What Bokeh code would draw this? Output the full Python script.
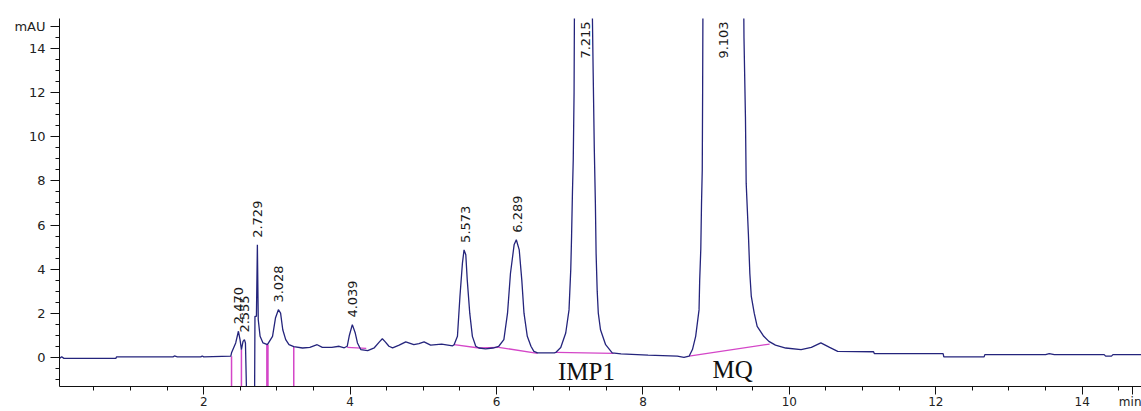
from bokeh.plotting import figure
from bokeh.models import Range1d, FixedTicker, Label, ColumnDataSource, NumeralTickFormatter
from bokeh.core.properties import value
from bokeh.embed import file_html
from bokeh.resources import INLINE

# ---- chromatogram trace (retention time in min, absorbance in mAU) ----
time_min = [0.03, 0.06, 0.09, 0.80, 0.81, 1.58, 1.60, 1.64, 1.96, 1.98, 2.00, 2.37,
            2.38, 2.437, 2.474, 2.496, 2.515, 2.537, 2.556, 2.57, 2.585, 2.695, 2.70, 2.72,
            2.733, 2.745, 2.77, 2.81, 2.87, 2.94, 2.98, 3.02, 3.05, 3.08, 3.12, 3.165,
            3.23, 3.35, 3.45, 3.55, 3.62, 3.75, 3.85, 3.92, 3.96, 3.99, 4.03, 4.07,
            4.10, 4.145, 4.24, 4.33, 4.40, 4.44, 4.48, 4.53, 4.58, 4.67, 4.76, 4.87,
            4.94, 5.01, 5.10, 5.25, 5.40, 5.42, 5.466, 5.50, 5.534, 5.556, 5.58, 5.60,
            5.634, 5.67, 5.716, 5.76, 5.85, 5.95, 6.03, 6.10, 6.15, 6.19, 6.24, 6.27,
            6.31, 6.345, 6.375, 6.42, 6.47, 6.51, 6.56, 6.79, 6.809, 6.877, 6.945, 6.99,
            7.014, 7.025, 7.037, 7.048, 7.059, 7.065, 7.215, 7.305, 7.32, 7.335, 7.35, 7.36,
            7.375, 7.39, 7.42, 7.49, 7.58, 7.70, 8.07, 8.47, 8.56, 8.63, 8.676, 8.72,
            8.766, 8.775, 8.79, 8.80, 8.81, 8.815, 8.82, 9.103, 9.375, 9.38, 9.40, 9.41,
            9.44, 9.46, 9.48, 9.52, 9.56, 9.65, 9.72, 9.81, 9.95, 10.16, 10.30, 10.43,
            10.55, 10.66, 11.15, 11.16, 12.10, 12.11, 12.66, 12.67, 13.50, 13.55, 13.62,
            14.30, 14.32, 14.40, 14.42, 14.81]
signal_mau = [-0.05, 0.02, -0.05, -0.05, 0.02, 0.02, 0.06, 0.02, 0.02, 0.06, 0.02, 0.05,
              0.20, 0.65, 1.18, 0.80, 0.35, 0.72, 0.80, 0.65, -1.60, -1.60, 1.86, 1.86,
              5.10, 1.70, 0.95, 0.65, 0.57, 0.95, 1.78, 2.16, 2.00, 1.25, 0.80, 0.57,
              0.48, 0.42, 0.45, 0.57, 0.45, 0.45, 0.50, 0.43, 0.50, 1.00, 1.48, 1.10,
              0.65, 0.35, 0.30, 0.43, 0.70, 0.84, 0.70, 0.50, 0.43, 0.55, 0.70, 0.57,
              0.62, 0.70, 0.55, 0.60, 0.52, 0.57, 0.95, 2.76, 4.27, 4.87, 4.65, 3.50,
              2.00, 0.95, 0.50, 0.42, 0.38, 0.42, 0.50, 0.80, 2.00, 3.80, 5.10, 5.33,
              4.87, 3.50, 2.00, 0.95, 0.50, 0.27, 0.20, 0.20, 0.22, 0.44, 1.10, 2.15,
              4.00, 5.50, 7.50, 9.00, 12.00, 16.50, 30.00, 16.50, 12.90, 9.50, 7.00, 4.70,
              3.00, 2.00, 1.25, 0.57, 0.20, 0.15, 0.10, 0.05, 0.00, 0.05, 0.35, 0.95,
              2.15, 3.50, 4.90, 7.00, 8.50, 12.00, 16.50, 40.00, 16.50, 14.50, 10.90, 7.90,
              5.60, 3.80, 2.76, 2.00, 1.40, 0.95, 0.72, 0.55, 0.42, 0.35, 0.45, 0.65,
              0.45, 0.27, 0.25, 0.17, 0.17, 0.02, 0.02, 0.12, 0.12, 0.17, 0.12,
              0.12, 0.05, 0.05, 0.12, 0.12]

# ---- integrated peaks ----
peak_rt = [2.470, 2.555, 2.729, 3.028, 4.039, 5.573, 6.289, 7.215, 9.103]
peak_text = ["2.470", "2.555", "2.729", "3.028", "4.039", "5.573", "6.289", "7.215", "9.103"]
peak_height = [1.18, 0.80, 5.10, 2.16, 1.48, 4.87, 5.33, 30.0, 40.0]

# ---- integration drop lines and baselines ----
drop_t = [2.38, 2.515, 2.87, 3.23]
drop_top = [0.05, 0.35, 0.57, 0.48]
base_t0 = [3.96, 5.42, 5.76, 6.03, 6.81, 8.63]
base_v0 = [0.45, 0.57, 0.42, 0.45, 0.22, 0.05]
base_t1 = [4.22, 5.76, 6.03, 6.56, 7.60, 9.73]
base_v1 = [0.40, 0.42, 0.45, 0.18, 0.18, 0.60]

compound_names = ["IMP1", "MQ"]

# ---- axis ticks ----
x_ticks = [2, 4, 6, 8, 10, 12, 14]
y_ticks = [0, 2, 4, 6, 8, 10, 12, 14]
x_unit, y_unit = "min", "mAU"

X0, X1 = 0.03, 14.81
Y0, Y1 = -1.326, 15.37
X_UNIT_POS, Y_UNIT_POS = 14.69, 15

NAVY = "#24247c"
MAGENTA = "#d446c8"
FONT = "DejaVu Sans"

p = figure(width=1141, height=411, x_range=Range1d(X0, X1), y_range=Range1d(Y0, Y1),
           output_backend="svg", toolbar_location=None,
           min_border_left=59, min_border_right=0, min_border_top=18, min_border_bottom=24)
p.outline_line_color = None
p.xgrid.visible = False
p.ygrid.visible = False
p.background_fill_color = "white"
p.border_fill_color = "white"

# drop lines to the bottom of the plot
for i, (t, top) in enumerate(zip(drop_t, drop_top)):
    p.segment(x0=[t], y0=[top], x1=[t], y1=[Y0 - 1], line_color=MAGENTA,
              line_width=2.6 if i == 2 else 1.5)
# baselines
p.segment(x0=base_t0, y0=base_v0, x1=base_t1, y1=base_v1, line_color=MAGENTA, line_width=1.3)

# trace
p.line(time_min, signal_mau, line_color=NAVY, line_width=1.3)

# retention time labels (rotated)
label_y = [min(h + 0.32, 13.55) for h in peak_height]
src = ColumnDataSource(dict(x=peak_rt, y=label_y, t=peak_text))
p.text(x="x", y="y", text="t", source=src, angle=1.5708, text_align="left",
       text_baseline="middle", text_font=value(FONT), text_font_size="13px",
       text_color="#1a1a1a")

# compound names
for name, xt, yt in zip(compound_names, [6.84, 8.95], [-0.64, -0.56]):
    p.add_layout(Label(x=xt, y=yt, text=name, text_font="Liberation Serif",
                       text_font_size="25px", text_color="#111111",
                       text_align="left", text_baseline="alphabetic"))

# axes: unit names are shown as extra labelled ticks at the axis ends
x_minor = [0.5 * i for i in range(1, 30)]
y_minor = [-1.0 + 0.5 * i for i in range(33)]
p.xaxis.ticker = FixedTicker(ticks=x_ticks + [X_UNIT_POS], minor_ticks=x_minor)
p.yaxis.ticker = FixedTicker(ticks=y_ticks + [Y_UNIT_POS], minor_ticks=y_minor)
p.xaxis.formatter = NumeralTickFormatter(format="0")
p.yaxis.formatter = NumeralTickFormatter(format="0")
p.xaxis.major_label_overrides = {X_UNIT_POS: x_unit}
p.yaxis.major_label_overrides = {Y_UNIT_POS: y_unit}

for ax in (p.xaxis[0], p.yaxis[0]):
    ax.axis_line_color = "#111111"
    ax.major_tick_line_color = "#111111"
    ax.minor_tick_line_color = "#111111"
    ax.major_tick_in = 0
    ax.minor_tick_in = 0
    ax.major_label_text_font = FONT
    ax.major_label_text_color = "#222222"

p.xaxis.major_label_text_font_size = "12px"
p.yaxis.major_label_text_font_size = "13px"
p.xaxis.major_tick_out = 8
p.xaxis.minor_tick_out = 4
p.xaxis.major_label_standoff = 0
p.yaxis.major_tick_out = 9
p.yaxis.minor_tick_out = 4
p.yaxis.major_label_standoff = 5

open("out.html", "w").write(file_html(p, INLINE))
